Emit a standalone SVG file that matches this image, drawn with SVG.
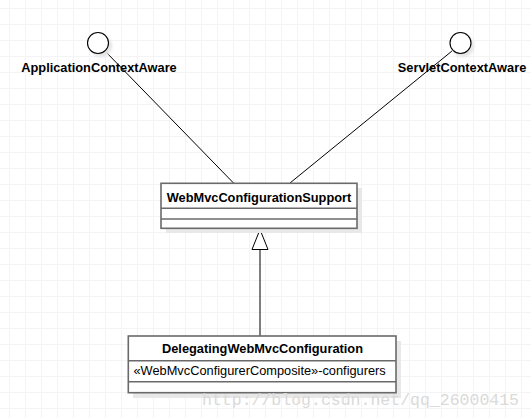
<svg xmlns="http://www.w3.org/2000/svg" width="531" height="418" viewBox="0 0 531 418">
<defs>
<pattern id="grid" patternUnits="userSpaceOnUse" x="9" y="8" width="16" height="16">
<path d="M0 0.5H16M0.5 0V16" stroke="#f4f4f4" stroke-width="1" fill="none"/>
</pattern>
<filter id="blur" x="-20%" y="-20%" width="140%" height="140%"><feGaussianBlur stdDeviation="1.5"/></filter>
</defs>
<style>
.title{font-family:"Liberation Sans",Arial,sans-serif;font-weight:bold;font-size:12.8px;fill:#000}
.lbl{font-family:"Liberation Sans",Arial,sans-serif;font-weight:bold;font-size:12.8px;fill:#000}
.attr{font-family:"Liberation Sans",Arial,sans-serif;font-size:12.8px;fill:#000}
.box{fill:#fff;stroke:#6a6a6a;stroke-width:1.6}
.div{stroke:#6a6a6a;stroke-width:1.6}
.shadow{fill:#e8e8e8}
.conn{stroke:#000;stroke-width:1;fill:none}
.iface{fill:#fff;stroke:#000;stroke-width:1.1}
</style>
<rect width="531" height="418" fill="#fff"/>
<rect width="531" height="418" fill="url(#grid)"/>

<g id="connectors">
<line class="conn" x1="105" y1="51" x2="233.5" y2="183"/>
<line class="conn" x1="452" y1="51" x2="290" y2="183"/>
<line class="conn" x1="260" y1="249.5" x2="260" y2="336"/>
<path d="M260 229.5L252 249.5H268Z" fill="#fff" stroke="#000" stroke-width="1"/>
</g>

<g id="ApplicationContextAware">
<circle cx="101" cy="46" r="11" fill="#e4e4e4" filter="url(#blur)"/>
<circle class="iface" cx="98" cy="43" r="10.5"/>
<text class="lbl" x="99" y="72" text-anchor="middle">ApplicationContextAware</text>
</g>

<g id="ServletContextAware">
<circle cx="463" cy="46" r="11" fill="#e4e4e4" filter="url(#blur)"/>
<circle class="iface" cx="460.5" cy="43" r="10.5"/>
<text class="lbl" x="462" y="72" text-anchor="middle">ServletContextAware</text>
</g>

<g id="WebMvcConfigurationSupport">
<rect class="shadow" x="166" y="188" width="196" height="45"/>
<rect class="box" x="161" y="183.3" width="196" height="45"/>
<line class="div" x1="161" y1="208.3" x2="357" y2="208.3"/>
<line class="div" x1="161" y1="219" x2="357" y2="219"/>
<text class="title" x="259" y="201.5" text-anchor="middle">WebMvcConfigurationSupport</text>
</g>

<g id="DelegatingWebMvcConfiguration">
<rect class="shadow" x="133" y="341" width="268" height="57"/>
<rect class="box" x="128.3" y="336" width="267.7" height="56.7"/>
<line class="div" x1="128.3" y1="360.7" x2="396" y2="360.7"/>
<line class="div" x1="128.3" y1="381.7" x2="396" y2="381.7"/>
<text class="title" x="262.5" y="352.5" text-anchor="middle">DelegatingWebMvcConfiguration</text>
<text class="attr" x="133.5" y="375">«WebMvcConfigurerComposite»-configurers</text>
</g>

<text x="202" y="405" font-family="'Liberation Mono','Courier New',monospace" font-size="16.5" fill="#dadada" textLength="317">http://blog.csdn.net/qq_26000415</text>
</svg>
